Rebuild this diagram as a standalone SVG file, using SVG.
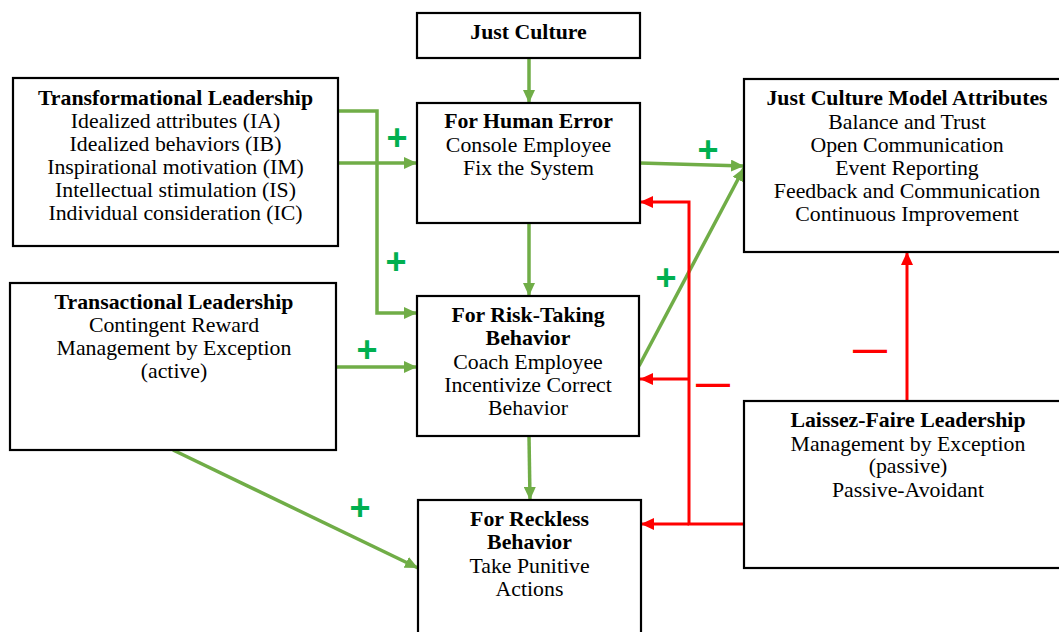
<svg xmlns="http://www.w3.org/2000/svg" width="1059" height="632" viewBox="0 0 1059 632">
<style>
.box{fill:#fff;stroke:#000;stroke-width:2.2}
text{font-family:"Liberation Serif","Times New Roman",serif;font-size:21.8px;fill:#000;text-anchor:middle}
.b{font-weight:bold}
.g{fill:none;stroke:#70AD47;stroke-width:3.5}
.r{fill:none;stroke:#FF0000;stroke-width:3}
.plus{font-family:"Liberation Sans",Arial,sans-serif;font-weight:bold;font-size:36px;fill:#00B050}
.minus{font-family:"Liberation Sans",Arial,sans-serif;font-weight:bold;font-size:34px;fill:#FF0000}
</style>
<defs>
<marker id="ag" markerUnits="userSpaceOnUse" markerWidth="14" markerHeight="12" refX="13" refY="6" orient="auto"><path d="M0,0 L13,6 L0,12 Z" fill="#70AD47"/></marker>
<marker id="ar" markerUnits="userSpaceOnUse" markerWidth="14" markerHeight="12" refX="13" refY="6" orient="auto"><path d="M0,0 L13,6 L0,12 Z" fill="#FF0000"/></marker>
</defs>
<g id="connectors">
<line class="g" x1="529" y1="58" x2="529" y2="103" marker-end="url(#ag)"/>
<line class="g" x1="338" y1="163" x2="417" y2="163" marker-end="url(#ag)"/>
<polyline class="g" points="338,111 377,111 377,313 417,313" marker-end="url(#ag)"/>
<line class="g" x1="336" y1="367" x2="417" y2="367" marker-end="url(#ag)"/>
<line class="g" x1="529" y1="223" x2="529" y2="296" marker-end="url(#ag)"/>
<line class="g" x1="529" y1="436" x2="530" y2="500" marker-end="url(#ag)"/>
<line class="g" x1="173" y1="450" x2="418" y2="568" marker-end="url(#ag)"/>
<line class="g" x1="640" y1="163" x2="744" y2="166" marker-end="url(#ag)"/>
<line class="g" x1="639" y1="366" x2="744" y2="168" marker-end="url(#ag)"/>
<line class="r" x1="907" y1="401" x2="907" y2="252" marker-end="url(#ar)"/>
<polyline class="r" points="744,524 689,524 689,202 640,202" marker-end="url(#ar)"/>
<line class="r" x1="689" y1="379" x2="640" y2="379" marker-end="url(#ar)"/>
<line class="r" x1="689" y1="524" x2="641" y2="524" marker-end="url(#ar)"/>
<text class="plus" x="397" y="150">+</text>
<text class="plus" x="396" y="274">+</text>
<text class="plus" x="367" y="362">+</text>
<text class="plus" x="708" y="162">+</text>
<text class="plus" x="666" y="290">+</text>
<text class="plus" x="360" y="520">+</text>
<text class="minus" x="713" y="394">—</text>
<text class="minus" x="870" y="360">—</text>
</g>
<g id="just-culture">
<rect class="box" x="417" y="13" width="223" height="45"/>
<text class="b" x="528.5" y="39">Just  Culture</text>
</g>
<g id="transformational">
<rect class="box" x="13" y="78" width="325" height="168"/>
<text class="b" x="175.5" y="105">Transformational  Leadership</text>
<text x="175.5" y="128">Idealized attributes (IA)</text>
<text x="175.5" y="151">Idealized behaviors (IB)</text>
<text x="175.5" y="174">Inspirational motivation (IM)</text>
<text x="175.5" y="197">Intellectual stimulation (IS)</text>
<text x="175.5" y="220">Individual consideration (IC)</text>
</g>
<g id="human-error">
<rect class="box" x="417" y="103" width="223" height="120"/>
<text class="b" x="528.5" y="128">For Human  Error</text>
<text x="528.5" y="152">Console Employee</text>
<text x="528.5" y="175">Fix the System</text>
</g>
<g id="jcm-attributes">
<rect class="box" x="744" y="79" width="320" height="173"/>
<text class="b" x="907" y="105">Just Culture  Model  Attributes</text>
<text x="907" y="129">Balance and Trust</text>
<text x="907" y="152">Open Communication</text>
<text x="907" y="175">Event Reporting</text>
<text x="907" y="198">Feedback and Communication</text>
<text x="907" y="221">Continuous  Improvement</text>
</g>
<g id="transactional">
<rect class="box" x="10" y="283" width="326" height="167"/>
<text class="b" x="174" y="309">Transactional  Leadership</text>
<text x="174" y="332">Contingent  Reward</text>
<text x="174" y="355">Management  by Exception</text>
<text x="174" y="378">(active)</text>
</g>
<g id="risk-taking">
<rect class="box" x="417" y="296" width="222" height="140"/>
<text class="b" x="528" y="322">For Risk-Taking</text>
<text class="b" x="528" y="345">Behavior</text>
<text x="528" y="369">Coach Employee</text>
<text x="528" y="392">Incentivize  Correct</text>
<text x="528" y="415">Behavior</text>
</g>
<g id="reckless">
<rect class="box" x="418" y="500" width="223" height="140"/>
<text class="b" x="529.5" y="526">For Reckless</text>
<text class="b" x="529.5" y="549">Behavior</text>
<text x="529.5" y="573">Take Punitive</text>
<text x="529.5" y="596">Actions</text>
</g>
<g id="laissez-faire">
<rect class="box" x="744" y="401" width="320" height="167"/>
<text class="b" x="908" y="427">Laissez-Faire Leadership</text>
<text x="908" y="451">Management  by Exception</text>
<text x="908" y="473">(passive)</text>
<text x="908" y="497">Passive-Avoidant</text>
</g>
</svg>
